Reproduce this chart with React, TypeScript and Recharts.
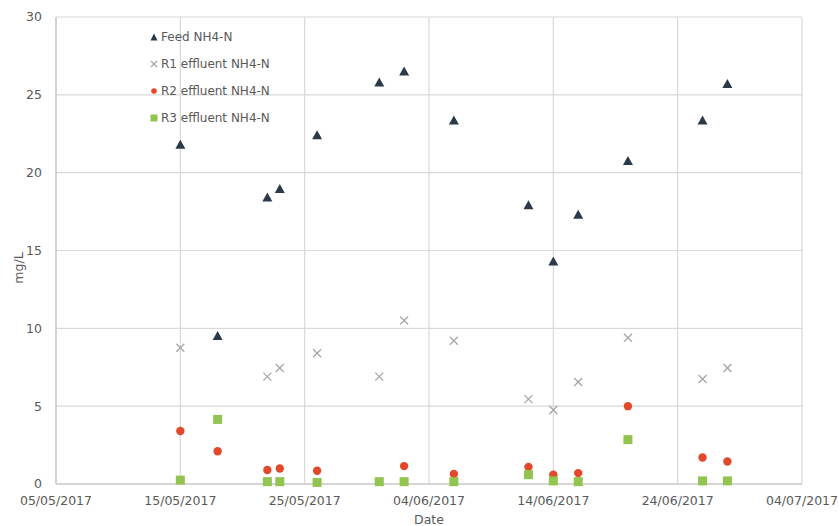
import React from 'react';
import {
  ScatterChart, Scatter, XAxis, YAxis, CartesianGrid,
} from 'recharts';

const dates = [
  '15/05/2017', '18/05/2017', '22/05/2017', '23/05/2017', '26/05/2017', '31/05/2017', '02/06/2017',
  '06/06/2017', '12/06/2017', '14/06/2017', '16/06/2017', '20/06/2017', '26/06/2017', '28/06/2017',
];
const feed = [21.8, 9.5, 18.4, 18.95, 22.4, 25.8, 26.5, 23.35, 17.9, 14.3, 17.3, 20.75, 23.35, 25.7];
const r1 = [8.75, null, 6.9, 7.45, 8.4, 6.9, 10.5, 9.2, 5.45, 4.75, 6.55, 9.4, 6.75, 7.45];
const r2 = [3.4, 2.1, 0.9, 1.0, 0.85, null, 1.15, 0.65, 1.1, 0.6, 0.7, 5.0, 1.7, 1.45];
const r3 = [0.25, 4.15, 0.15, 0.15, 0.1, 0.15, 0.15, 0.15, 0.6, 0.2, 0.15, 2.85, 0.2, 0.2];

const xTicks = ['05/05/2017', '15/05/2017', '25/05/2017', '04/06/2017', '14/06/2017', '24/06/2017', '04/07/2017'];
const yTicks = [0, 5, 10, 15, 20, 25, 30];

const toDay = (s: string) => {
  const [d, m, y] = s.split('/').map(Number);
  return Date.UTC(y, m - 1, d) / 86400000;
};
const day0 = toDay(xTicks[0]);
const dayOf = (s: string) => toDay(s) - day0;

const build = (vals: (number | null)[]) =>
  dates.map((d, i) => ({ day: dayOf(d), v: vals[i] })).filter((p) => p.v !== null);

const fmt = (n: number) => {
  const dt = new Date((day0 + n) * 86400000);
  const dd = String(dt.getUTCDate()).padStart(2, '0');
  const mm = String(dt.getUTCMonth() + 1).padStart(2, '0');
  return `${dd}/${mm}/${dt.getUTCFullYear()}`;
};

const FONT = 'DejaVu Sans, Verdana, sans-serif';
const TXT = '#595959';

const Tri = ({ cx, cy }: any) => (
  <polygon points={`${cx},${cy - 5} ${cx + 5},${cy + 4} ${cx - 5},${cy + 4}`} fill="#2b3a48" />
);
const Xmark = ({ cx, cy }: any) => (
  <g stroke="#a6a6a6" strokeWidth={1.3}>
    <line x1={cx - 4} y1={cy - 4} x2={cx + 4} y2={cy + 4} />
    <line x1={cx - 4} y1={cy + 4} x2={cx + 4} y2={cy - 4} />
  </g>
);
const Dot = ({ cx, cy }: any) => <circle cx={cx} cy={cy} r={4.2} fill="#e2492b" />;
const Sq = ({ cx, cy }: any) => <rect x={cx - 4.5} y={cy - 4.5} width={9} height={9} fill="#92c450" />;

const legendItems = [
  { name: 'Feed NH4-N', icon: (
    <svg width={8} height={8}><polygon points="4,0.5 7.5,7.5 0.5,7.5" fill="#2b3a48" /></svg>
  ) },
  { name: 'R1 effluent NH4-N', icon: (
    <svg width={8} height={8}><g stroke="#a6a6a6" strokeWidth={1.2}><line x1={1} y1={1} x2={7} y2={7} /><line x1={1} y1={7} x2={7} y2={1} /></g></svg>
  ) },
  { name: 'R2 effluent NH4-N', icon: (
    <svg width={8} height={8}><circle cx={4} cy={4} r={2.8} fill="#e2492b" /></svg>
  ) },
  { name: 'R3 effluent NH4-N', icon: (
    <svg width={8} height={8}><rect x={0.5} y={0.5} width={7} height={7} fill="#92c450" /></svg>
  ) },
];

const YLabel = () => (
  <text x={18} y={268} transform="rotate(-90 18 268)" textAnchor="middle" dominantBaseline="central"
    fill={TXT} fontSize={12.5} fontFamily={FONT}>mg/L</text>
);

export default function App() {
  return (
    <div style={{ position: 'absolute', left: 0, top: 0, width: 839, height: 526, background: '#fff' }}>
      <ScatterChart width={839} height={526} margin={{ top: 17, right: 37, bottom: 0, left: 0 }}>
        <CartesianGrid stroke="#d9d9d9" strokeWidth={1.2} />
        <XAxis
          type="number"
          dataKey="day"
          domain={[0, 60]}
          ticks={xTicks.map(dayOf)}
          tickFormatter={fmt}
          height={42}
          stroke="#bfbfbf"
          tickLine={false}
          tick={{ fill: TXT, fontSize: 12.5, fontFamily: FONT }}
          tickMargin={6}
          label={{ value: 'Date', position: 'insideBottom', offset: 2, fill: TXT, fontSize: 12.5, fontFamily: FONT }}
        />
        <YAxis
          type="number"
          dataKey="v"
          domain={[0, 30]}
          ticks={yTicks}
          width={56}
          stroke="#bfbfbf"
          tickLine={false}
          tick={{ fill: TXT, fontSize: 12.5, fontFamily: FONT }}
          tickMargin={8}
          label={{ content: YLabel }}
        />
        <Scatter name="Feed NH4-N" data={build(feed)} shape={Tri} isAnimationActive={false} />
        <Scatter name="R1 effluent NH4-N" data={build(r1)} shape={Xmark} isAnimationActive={false} />
        <Scatter name="R2 effluent NH4-N" data={build(r2)} shape={Dot} isAnimationActive={false} />
        <Scatter name="R3 effluent NH4-N" data={build(r3)} shape={Sq} isAnimationActive={false} />
      </ScatterChart>
      <div style={{ position: 'absolute', left: 150, top: 23, fontFamily: FONT, fontSize: 12, color: TXT }}>
        {legendItems.map((it) => (
          <div key={it.name} style={{ display: 'flex', alignItems: 'center', height: 27 }}>
            <span style={{ display: 'inline-flex', marginRight: 3 }}>{it.icon}</span>
            {it.name}
          </div>
        ))}
      </div>
    </div>
  );
}
